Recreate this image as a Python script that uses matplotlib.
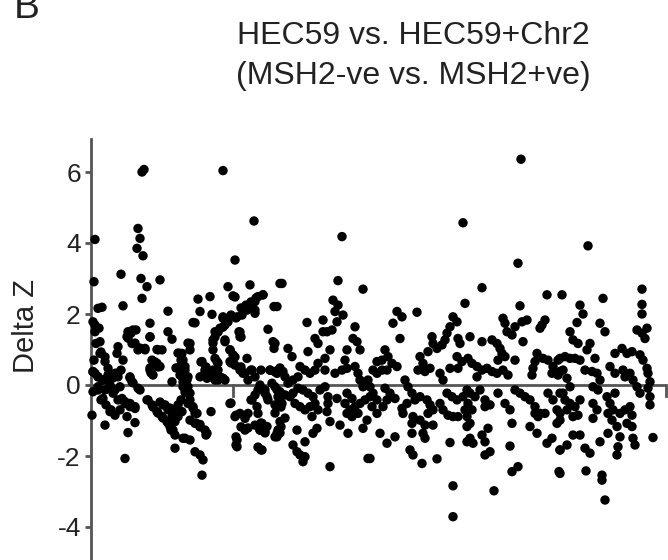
import matplotlib
matplotlib.use("Agg")
import matplotlib.pyplot as plt

# ---- data (x: position along genome, arbitrary units; y: Delta Z) ----
x_seg1 = [142, 144, 95, 138, 140, 137, 143, 121, 94, 141, 147, 160, 142, 123, 98, 102, 168, 95, 99, 150,
          100, 128, 133, 127, 168, 172, 150, 118, 117, 132, 138, 145, 157, 162, 100, 105, 108, 123, 152, 157,
          160, 150, 153, 182, 180, 182, 93, 98, 103, 110, 115, 118, 130, 132, 172, 98, 103, 110, 113, 122,
          125, 130, 135, 138, 147, 152, 157, 162, 167, 170, 163, 168, 172, 175, 178, 182, 110, 115, 120, 92,
          127, 105, 135, 128, 175, 183, 125, 173, 93, 95, 96, 94, 95, 93]
y_seg1 = [6.0, 6.07, 4.1, 4.41, 4.13, 3.85, 3.64, 3.12, 2.91, 3.0, 2.77, 2.96, 2.44, 2.23, 2.16, 2.19, 2.08, 1.69, 1.60, 1.74,
          1.22, 1.50, 1.55, 1.36, 1.50, 1.29, 1.36, 1.08, 0.89, 1.17, 0.99, 1.03, 1.0, 0.99, 0.89, 0.66, 0.47, 0.70, 0.70, 0.61,
          0.52, 0.42, 0.28, 0.89, 0.52, 0.23, 0.38, 0.23, 0.14, 0.19, 0.33, 0.23, 0.23, 0.09, 0.09, -0.14, -0.38, -0.05, -0.23, -0.38,
          -0.47, -0.52, -0.61, -0.09, -0.42, -0.56, -0.75, -0.89, -1.03, -1.17, -0.56, -0.70, -0.89, -1.03, -0.89, -0.75, -0.75, -0.85, -0.70, -0.85,
          -0.89, -1.13, -1.06, -1.34, -1.78, -1.50, -2.07, -1.27, 1.78, 1.50, 1.17, 0.70, 0.33, -0.19]

x_seg2 = [223, 254, 235, 228, 233, 250, 280, 198, 210, 200, 212, 193, 223, 225, 220, 215, 213, 237, 242, 247,
          250, 255, 258, 263, 255, 274, 239, 240, 268, 273, 274, 225, 213, 215, 190, 230, 233, 230, 247, 235,
          240, 243, 252, 270, 277, 180, 183, 185, 182, 187, 183, 202, 205, 200, 207, 213, 218, 223, 217, 218,
          260, 265, 267, 272, 277, 278, 187, 190, 193, 197, 230, 211, 235, 240, 245, 248, 252, 257, 258, 262,
          260, 265, 267, 245, 195, 200, 207, 185, 190, 195, 200, 203, 202, 237, 237, 262, 277]
y_seg2 = [6.04, 4.62, 3.52, 2.77, 2.51, 2.82, 2.86, 2.42, 2.49, 2.07, 1.99, 1.76, 1.88, 1.69, 1.60, 1.50, 1.27, 1.92, 1.97, 2.11,
          2.25, 2.35, 2.49, 2.54, 2.02, 2.21, 1.50, 1.36, 1.57, 1.22, 1.03, 1.22, 0.99, 0.75, 1.17, 0.99, 0.85, 0.66, 0.75, 0.56,
          0.42, 0.33, 0.42, 0.42, 0.33, 0.89, 0.70, 0.52, 0.33, 0.14, -0.05, 0.66, 0.42, 0.23, 0.19, 0.23, 0.14, 0.19, 0.66, 0.42,
          0.0, -0.14, -0.33, 0.05, -0.14, -0.33, -0.23, -0.42, -0.61, -0.80, -0.52, -0.75, -0.89, -0.80, -0.94, -0.80, -0.42, -0.61, -0.80, -1.08,
          -1.27, -1.31, -1.17, -1.27, -1.08, -1.11, -1.36, -1.50, -1.55, -1.88, -1.97, -2.11, -2.54, -1.55, -1.74, -1.83, -1.36]

x_seg3 = [342, 282, 338, 363, 277, 333, 338, 335, 343, 337, 332, 307, 323, 327, 323, 355, 353, 357, 360, 315,
          318, 308, 288, 292, 330, 325, 318, 315, 347, 345, 275, 278, 283, 300, 305, 310, 298, 293, 288, 335,
          342, 347, 355, 358, 325, 360, 363, 368, 373, 275, 280, 285, 282, 277, 290, 295, 300, 305, 310, 315,
          318, 312, 293, 298, 303, 308, 313, 320, 325, 328, 328, 327, 330, 337, 347, 352, 345, 350, 355, 360,
          365, 370, 358, 352, 347, 340, 348, 363, 367, 280, 278, 277, 297, 305, 313, 317, 293, 297, 300, 305,
          303, 330, 368]
y_seg3 = [4.18, 2.86, 2.94, 2.70, 2.21, 2.39, 2.25, 2.07, 1.97, 1.78, 1.55, 1.76, 1.83, 1.50, 1.50, 1.64, 1.31, 1.22, 0.99, 1.31,
          1.17, 0.94, 1.03, 0.80, 0.99, 0.75, 0.61, 0.42, 0.99, 0.70, 1.17, 0.42, 0.38, 0.52, 0.42, 0.33, 0.23, 0.14, 0.05, 0.33,
          0.42, 0.47, 0.52, 0.33, 0.42, 0.14, -0.05, 0.14, 0.42, -0.05, -0.19, -0.28, -0.52, -0.61, -0.33, -0.52, -0.61, -0.70, -0.61, -0.52,
          -0.70, -0.89, -0.23, -0.09, -0.14, -0.23, -0.33, -0.14, -0.05, -0.33, -0.52, -0.75, -1.03, -0.38, -0.23, -0.38, -0.52, -0.70, -0.61, -0.52,
          -0.42, -0.33, -0.80, -0.89, -0.80, -1.13, -1.36, -1.22, -0.99, -1.03, -1.27, -1.46, -1.27, -1.60, -1.36, -1.22, -1.69, -1.88, -1.97, -2.02,
          -2.16, -2.30, -2.07]

x_seg4 = [463, 465, 417, 397, 402, 393, 400, 453, 457, 450, 447, 445, 442, 437, 432, 433, 428, 458, 460, 385,
          377, 382, 388, 392, 397, 387, 382, 377, 420, 423, 418, 425, 430, 440, 443, 457, 462, 458, 450, 370,
          373, 377, 372, 377, 385, 390, 395, 387, 383, 405, 408, 412, 407, 402, 403, 415, 420, 427, 430, 433,
          428, 413, 412, 420, 425, 440, 443, 448, 453, 458, 465, 447, 452, 457, 463, 467, 380, 387, 395, 412,
          425, 423, 433, 450, 467, 467, 410, 413, 422, 437, 370, 453, 453]
y_seg4 = [4.57, 2.30, 2.05, 2.07, 1.92, 1.74, 1.31, 1.92, 1.78, 1.64, 1.46, 1.27, 1.13, 1.03, 1.36, 1.17, 0.94, 1.31, 1.17, 0.99,
          0.66, 0.70, 0.80, 0.61, 0.52, 0.42, 0.42, 0.33, 0.80, 0.61, 0.42, 0.38, 0.47, 0.33, 0.14, 0.80, 0.66, 0.47, 0.47, -0.05,
          -0.23, -0.42, -0.61, -0.80, -0.09, -0.23, -0.38, -0.42, -0.61, 0.14, -0.05, -0.23, -0.52, -0.66, -0.80, -0.42, -0.33, -0.42, -0.56, -0.70,
          -0.80, -0.89, -1.08, -0.99, -1.13, -0.52, -0.70, -0.85, -0.89, -0.89, -0.70, -0.23, -0.33, -0.42, -0.33, -0.14, -1.36, -1.64, -1.46, -1.36,
          -1.50, -1.36, -1.13, -1.62, -1.17, -1.60, -1.83, -1.97, -2.21, -2.08, -2.07, -2.84, -3.71]

x_seg5 = [521, 518, 482, 547, 562, 520, 503, 505, 507, 512, 515, 522, 527, 545, 542, 540, 470, 482, 492, 497,
          500, 502, 505, 498, 523, 515, 468, 472, 477, 482, 487, 492, 497, 477, 503, 508, 537, 535, 533, 532,
          543, 548, 553, 558, 552, 558, 563, 470, 475, 468, 472, 467, 470, 480, 485, 490, 485, 498, 505, 510,
          515, 512, 520, 525, 530, 535, 540, 545, 535, 538, 548, 553, 557, 560, 563, 557, 530, 537, 547, 552,
          560, 470, 473, 482, 485, 488, 485, 490, 510, 512, 518, 559, 494]
y_seg5 = [6.36, 3.43, 2.74, 2.54, 2.54, 2.23, 1.88, 1.74, 1.50, 1.41, 1.64, 1.78, 1.83, 1.83, 1.69, 1.60, 1.36, 1.22, 1.27, 1.17,
          1.03, 0.89, 0.80, 0.70, 1.22, 0.70, 0.75, 0.61, 0.52, 0.42, 0.47, 0.38, 0.33, 0.23, 0.42, 0.28, 0.89, 0.66, 0.47, 0.28,
          0.75, 0.70, 0.52, 0.70, 0.33, 0.28, 0.42, -0.23, -0.33, -0.52, -0.70, -0.89, -1.08, -0.14, -0.42, -0.56, -0.61, -0.23, -0.52, -0.70,
          -0.14, -1.08, -0.23, -0.33, -0.42, -0.61, -0.80, -0.80, -0.80, -0.89, -0.23, -0.42, -0.70, -0.99, -0.23, -1.08, -1.17, -1.36, -1.64, -1.50,
          -1.83, -1.50, -1.64, -1.41, -1.60, -1.22, -1.97, -1.88, -1.72, -2.44, -2.30, -2.44, -2.98]

x_seg6 = [588, 603, 580, 583, 577, 642, 642, 642, 637, 647, 645, 642, 600, 605, 570, 573, 578, 590, 587, 615,
          622, 627, 632, 640, 643, 647, 648, 650, 648, 650, 650, 560, 565, 570, 575, 580, 595, 585, 592, 597,
          610, 615, 560, 567, 570, 593, 598, 600, 623, 625, 630, 633, 637, 640, 560, 565, 570, 575, 580, 567,
          560, 573, 578, 593, 597, 593, 607, 610, 613, 608, 612, 617, 620, 625, 630, 632, 627, 632, 615, 608,
          573, 580, 567, 560, 585, 590, 600, 620, 618, 617, 633, 635, 653, 560, 586, 602, 602, 605]
y_seg6 = [3.92, 2.44, 2.25, 2.0, 1.76, 2.70, 2.27, 2.0, 1.55, 1.60, 1.31, 1.46, 1.74, 1.50, 1.50, 1.27, 1.17, 1.17, 0.99, 0.89,
          1.03, 0.89, 0.94, 0.85, 0.70, 0.47, 0.33, 0.09, -0.09, -0.33, -0.56, 0.75, 0.80, 0.75, 0.75, 0.70, 0.75, 0.42, 0.38, 0.33,
          0.52, 0.33, 0.38, 0.19, -0.05, -0.05, -0.14, 0.14, 0.42, 0.23, 0.33, 0.14, -0.05, -0.23, -0.23, -0.42, -0.52, -0.61, -0.42, -0.70,
          -0.80, -0.89, -0.85, -0.52, -0.70, -0.94, -0.33, -0.52, -0.70, -0.80, -0.99, -1.17, -0.80, -0.70, -0.61, -0.85, -1.08, -1.17, -0.23, -1.36,
          -1.41, -1.41, -1.69, -1.83, -1.78, -1.92, -1.60, -1.46, -1.74, -1.97, -1.50, -1.69, -1.48, -2.49, -2.42, -2.54, -2.68, -3.24]

# extra points read from a closer look at the dense left part of the cloud
x_seg7 = [101, 105, 93, 98, 103, 108, 113, 118, 121, 98, 105, 110, 115, 120, 101, 106, 111, 118, 125, 130,
          135, 131, 136, 128, 135, 140, 145, 150, 158, 155, 150, 158, 151, 130, 133, 140, 148, 153, 158, 163,
          168, 171, 175, 160, 165, 170, 175, 178, 178, 181, 176, 180, 185, 188, 183, 188, 185, 190, 188, 190,
          181, 188, 193, 195, 190, 196, 200, 205, 206, 195, 223, 228, 223, 218, 215, 213, 235, 241, 246, 251,
          256, 263, 255, 231, 236, 240, 241, 225, 230, 235, 231, 201, 206, 205, 210, 215, 220, 225, 213, 218,
          241, 245, 251, 248, 255, 261, 270, 275, 280, 285, 231, 236, 245, 241, 248, 255, 261, 260, 265, 258,
          261, 236, 236, 251, 255, 258, 265, 268, 275, 280, 281, 275, 285, 275, 280, 281]
y_seg7 = [0.93, 0.79, 0.37, 0.23, 0.14, 0.28, 0.20, 0.34, 0.42, -0.05, -0.14, 0.0, -0.14, -0.05, -0.42, -0.56, -0.70, -0.42, -0.52, -0.61,
          -0.66, 1.46, 1.55, 1.32, 1.18, 1.04, 0.99, 1.35, 0.99, 0.65, 0.48, 0.51, 0.34, 0.20, 0.06, -0.14, -0.42, -0.62, -0.79, -0.93,
          -1.07, -1.27, -1.41, -0.48, -0.56, -0.65, -0.70, -0.56, 0.90, 0.70, 0.48, 0.28, 0.42, 0.23, 0.08, -0.05, -0.20, -0.23, 1.18, 0.99,
          -0.42, -0.52, -0.65, -0.79, -0.99, -1.07, -1.18, -1.27, -1.41, 1.75, 1.92, 1.78, 1.63, 1.49, 1.35, 1.18, 2.48, 2.17, 2.25, 2.34,
          2.45, 2.54, 2.11, 1.97, 1.89, 1.49, 1.35, 1.27, 0.99, 0.79, 0.62, 0.65, 0.51, 0.34, 0.23, 0.14, 0.23, 0.14, 0.42, 0.62,
          0.51, 0.34, 0.42, 0.14, 0.23, 0.42, 0.42, 0.37, 0.48, 0.23, -0.51, -0.85, -0.90, -1.18, -1.21, -1.13, -1.07, -1.27, -1.35, -1.75,
          -1.83, -1.46, -1.69, -0.42, -0.28, -0.14, -0.23, -0.42, -0.56, -0.37, -0.62, -0.79, -0.93, -1.46, -1.35, -1.18]

x_all = x_seg1 + x_seg2 + x_seg3 + x_seg4 + x_seg5 + x_seg6 + x_seg7
y_all = y_seg1 + y_seg2 + y_seg3 + y_seg4 + y_seg5 + y_seg6 + y_seg7

y_ticks = [-4, -2, 0, 2, 4, 6]
x_axis_ticks = [233, 666]

title = "HEC59 vs. HEC59+Chr2\n(MSH2-ve vs. MSH2+ve)"

plt.rcParams['font.family'] = ['Liberation Sans', 'DejaVu Sans']
plt.rcParams['axes.unicode_minus'] = False

W, H = 668, 560
fig = plt.figure(figsize=(W / 100, H / 100), dpi=100)
x_left_px, x_right_px = 90.5, 666
y_top_px, y_bot_px = 139, 560
ax = fig.add_axes([x_left_px / W, 1 - y_bot_px / H, (x_right_px - x_left_px) / W, (y_bot_px - y_top_px) / H])

px_per_unit = 35.5
zero_px = 385
ymax = (zero_px - y_top_px) / px_per_unit
ymin = (zero_px - y_bot_px) / px_per_unit
ax.set_ylim(ymin, ymax)
ax.set_xlim(x_left_px, x_right_px)

ax.scatter(x_all, y_all, s=46, color='black', edgecolors='none', zorder=3, clip_on=False)

axis_col = '#555555'
ax.axhline(0, color=axis_col, lw=2.0, zorder=2)
for xt in x_axis_ticks:
    ax.plot([xt, xt], [0, -0.3], color=axis_col, lw=2.0, zorder=2, clip_on=False)

for s in ['top', 'right', 'bottom']:
    ax.spines[s].set_visible(False)
ax.spines['left'].set_color(axis_col)
ax.spines['left'].set_linewidth(2.0)
ax.set_xticks([])
ax.set_yticks(y_ticks)
ax.tick_params(axis='y', direction='out', length=4, width=2.0, color=axis_col,
               labelsize=19, labelcolor='#222222', pad=3)

fig.text(26 / W, 1 - 326 / H, "Delta Z", rotation=90, ha='center', va='center',
         fontsize=21, color='#222222')

fig.text(413 / W, 1 - 56 / H, title, ha='center', va='center', fontsize=23,
         color='#222222', linespacing=1.4)
fig.text(14 / W, 1 - 18 / H, "B", ha='left', va='baseline', fontsize=28, color='#222222')

fig.savefig("out.png", dpi=100)
